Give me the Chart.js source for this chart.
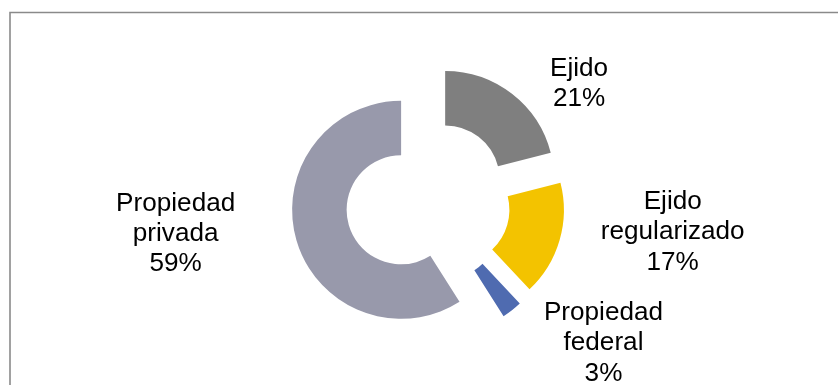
<!DOCTYPE html>
<html>
<head>
<meta charset="utf-8">
<script src="https://cdn.jsdelivr.net/npm/chart.js@4.4.1/dist/chart.umd.min.js"></script>
<style>
  html, body { margin: 0; padding: 0; background: #ffffff; }
  #wrap { position: relative; width: 838px; height: 385px; }
</style>
</head>
<body>
<div id="wrap"><canvas id="c" width="838" height="385"></canvas></div>
<script>
// ---- data ----
const categories = ["Ejido", "Ejido regularizado", "Propiedad federal", "Propiedad privada"];
const labelLines = [["Ejido"], ["Ejido", "regularizado"], ["Propiedad", "federal"], ["Propiedad", "privada"]];
const values = [21, 17, 3, 59];
const percentLabels = ["21%", "17%", "3%", "59%"];

// ---- styles ----
const colors = ["#7f7f7f", "#f3c300", "#4f6bb0", "#9899ab"];
const explode = 28;           // px each slice is pulled out
const outerR = 109;           // px
// label anchor offsets (in units of outer radius, from chart centre)
const labelOffsets = [[1.386, -1.16], [2.245, 0.066], [1.61, 1.085], [-2.315, 0.079]];

const framePlugin = {
  id: 'frame',
  beforeDraw(chart) {
    const ctx = chart.ctx;
    ctx.save();
    ctx.strokeStyle = '#8a8a8a';
    ctx.lineWidth = 1.6;
    ctx.beginPath();
    ctx.moveTo(10, 385);
    ctx.lineTo(10, 12.5);
    ctx.lineTo(838, 12.5);
    ctx.stroke();
    ctx.restore();
  }
};

// pull every slice out along its bisector by the same distance
const explodePlugin = {
  id: 'explode',
  afterDatasetUpdate(chart, args) {
    args.meta.data.forEach(arc => {
      const mid = (arc.startAngle + arc.endAngle) / 2;
      arc.x += Math.cos(mid) * explode;
      arc.y += Math.sin(mid) * explode;
    });
  }
};

const labelPlugin = {
  id: 'sliceLabels',
  afterDraw(chart) {
    const ctx = chart.ctx;
    const ca = chart.chartArea;
    const cx = (ca.left + ca.right) / 2, cy = (ca.top + ca.bottom) / 2;
    const R = chart.getDatasetMeta(0).data[0].outerRadius;
    ctx.save();
    ctx.fillStyle = '#000000';
    ctx.font = '25px "Liberation Sans", Arial, sans-serif';
    ctx.textAlign = 'center';
    ctx.textBaseline = 'alphabetic';
    values.forEach((v, i) => {
      const lines = labelLines[i].concat([percentLabels[i]]);
      const x = cx + labelOffsets[i][0] * R;
      const y = cy + labelOffsets[i][1] * R;
      lines.forEach((ln, k) => {
        ctx.save();
        ctx.translate(x, y + k * 30.2);
        ctx.scale(1.045, 1);
        ctx.fillText(ln, 0, 0);
        ctx.restore();
      });
    });
    ctx.restore();
  }
};

new Chart(document.getElementById('c'), {
  type: 'doughnut',
  data: {
    labels: categories,
    datasets: [{
      data: values,
      backgroundColor: colors,
      borderWidth: 0,
      hoverOffset: 0
    }]
  },
  options: {
    responsive: false,
    animation: false,
    radius: outerR,
    cutout: '50%',
    layout: { padding: { left: 18, right: 0, top: 19, bottom: 0 } },
    plugins: {
      legend: { display: false },
      tooltip: { enabled: false }
    },
    events: []
  },
  plugins: [framePlugin, explodePlugin, labelPlugin]
});
</script>
</body>
</html>
